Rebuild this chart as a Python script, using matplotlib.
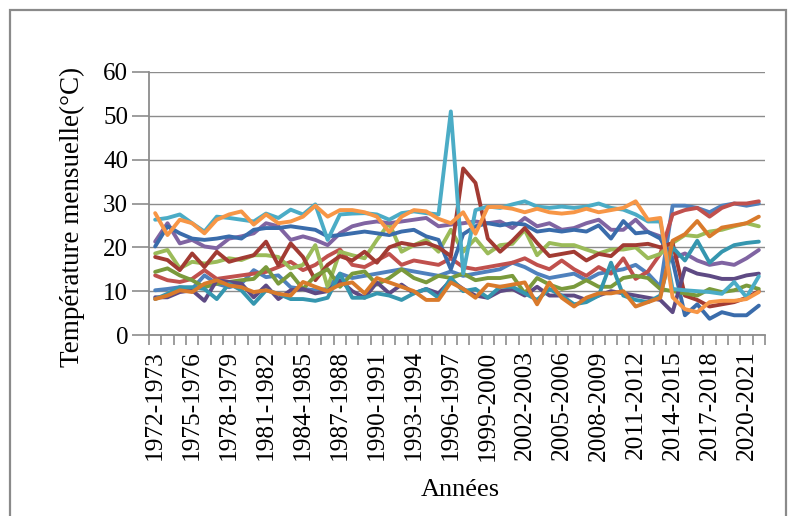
import matplotlib
matplotlib.use("Agg")
import matplotlib.pyplot as plt
from matplotlib.patches import Rectangle
import numpy as np

years = [f"{y}-{y+1}" for y in range(1972, 2022)]

bleu = [10.2, 10.5, 10.9, 10.5, 13.6, 11.7, 10.9, 11.7, 14.8, 13.2, 13.6, 10.9, 10.5,
        10.2, 10.5, 14, 13, 13.5, 14, 14.5, 15, 14.5, 14, 13.5, 14.5,
        13.5, 14, 14.5, 15, 16.5, 15.5, 14, 13, 13.5, 14, 12.5, 14,
        14.5, 15, 16, 14, 11, 29.5, 29.5, 29, 28, 29.5, 30, 29.5, 30]
rouge = [13.6, 12.5, 12.1, 12.8, 14.8, 12.8, 13.2, 13.6, 14, 14.4, 15.5, 16.7, 14.8,
         16, 18, 19.5, 16, 15.5, 17, 18.5, 16, 17, 16.5, 16, 17.5,
         15.5, 15, 15.5, 16, 16.5, 17.5, 16, 15, 17, 15, 13.5, 15.5,
         14, 17.5, 12.8, 14.5, 18.5, 27.5, 28.5, 29, 27, 29, 30, 30, 30.5]
vert = [18.6, 19.4, 15.2, 16.7, 16.3, 16.7, 17.5, 17.1, 18.2, 18.2, 17.8, 15.2, 16,
        20.5, 10.9, 19, 18.2, 17.5, 21.7, 25.5, 19, 20.5, 21.7, 19, 24,
        19, 22, 18.6, 20.5, 20.8, 24, 18.2, 21, 20.5, 20.5, 19.5, 18.6,
        19.5, 19.5, 20, 17.5, 18.5, 21, 22.8, 22.5, 23.6, 24, 24.8, 25.5, 24.8]
violet = [21.3, 25.5, 20.9, 21.7, 20.2, 19.8, 22, 22.5, 23.2, 25.5, 24.8, 21.7, 22.5,
          21.7, 20.5, 23.2, 24.8, 25.5, 25.9, 25.5, 25.9, 26.3, 26.7, 24.8, 25.2,
          25.5, 25.9, 25.5, 25.9, 24.4, 26.7, 24.8, 25.5, 24, 24.4, 25.5, 26.3,
          24, 24, 26.3, 23.5, 22.5, 17.5, 18.6, 17, 16, 16.5, 16, 17.5, 19.4]
cyan = [26.3, 26.7, 27.5, 25.5, 23.6, 27, 26.7, 26.3, 25.9, 27.7, 26.7, 28.6, 27.5,
        29.8, 21.7, 27.5, 27.7, 27.8, 27.5, 26.3, 27.8, 28.2, 27.8, 27.5, 51,
        14, 28.5, 29.3, 29, 29.8, 30.5, 29.3, 29, 29.3, 29, 29.3, 30,
        29, 28.6, 27.5, 25.9, 25.9, 10.5, 10.2, 10, 9.8, 9.4, 12.1, 8.6, 13.4]
orange = [27.8, 22.8, 26.3, 25.5, 23.2, 26.3, 27.5, 28.2, 25.2, 27.5, 25.5, 25.9, 27,
          29.5, 27, 28.5, 28.5, 28, 27, 23.5, 27, 28.5, 28.2, 26.5, 25.5,
          28, 23.1, 29.2, 29.2, 28.8, 28, 28.8, 28, 27.7, 28, 28.8, 28,
          28.5, 29, 30.5, 26.3, 26.7, 8.6, 5.9, 5.2, 7.5, 7.8, 7.8, 8.2, 9.8]
bleu_fonce = [20.2, 24.8, 23.2, 22, 21.7, 22, 22.5, 22, 24, 24.4, 24.4, 24.8, 24.4,
              24, 22.5, 22.8, 23.2, 23.6, 23.2, 22.8, 23.6, 24, 22.5, 21.7, 15,
              23, 24.8, 25.5, 25, 25.5, 25.2, 23.6, 24, 23.6, 24, 23.6, 25,
              22, 26, 23.2, 23.5, 22, 17, 4.5, 7, 3.7, 5.2, 4.5, 4.5, 6.7]
rouge_fonce = [17.8, 17.1, 14.8, 18.6, 15.5, 19, 16.7, 17.5, 18.2, 21.3, 15.9, 20.9, 17.8,
               12.5, 16, 18, 17, 19, 16.5, 20, 21, 20.5, 21, 20, 18,
               38, 34.7, 22, 19, 21.5, 24.4, 21, 18, 18.5, 19, 17, 18.5,
               18, 20.5, 20.5, 20.8, 20, 21, 9, 8, 6.5, 7, 7.5, 8.5, 10]
olive = [14.4, 15.2, 13.6, 12.5, 10.9, 11.7, 12.1, 12.5, 12.8, 15.5, 11.7, 14, 10.5,
         13.5, 15, 11, 14, 14.5, 11.5, 13, 15, 13, 12, 13.5, 13,
         14, 12.5, 13, 13, 13.5, 9.5, 13, 11.5, 10.5, 11, 12.5, 11,
         11, 13, 13.5, 13, 10.5, 10, 9.5, 9, 10.5, 9.8, 10.2, 11.3, 10.5]
violet_fonce = [8.6, 8.6, 9.8, 10.2, 7.8, 12.5, 12.1, 11.7, 8.6, 11.3, 8.2, 10.2, 10.5,
                9.5, 10, 12.5, 10, 8.5, 12, 9.5, 11.5, 9.5, 10.5, 9.5, 12.5,
                10.5, 9, 8.5, 10, 10.5, 9, 11, 9, 9, 9, 8, 9,
                10, 9.5, 9, 8.5, 8, 5.2, 15.2, 14, 13.5, 12.8, 12.8, 13.6, 14]
bleu_canard = [8.2, 9.4, 10.9, 10.9, 10.5, 8.2, 11.7, 10.2, 7.1, 10.2, 9.4, 8.2, 8.2,
               7.8, 8.5, 14, 8.5, 8.5, 9.5, 9, 8, 9.5, 10.5, 8.5, 13,
               10, 10.5, 8.5, 11, 11, 9.5, 8, 10.5, 9, 7, 7.5, 9,
               16.5, 9, 8, 7.5, 9, 20, 17, 21.5, 16.5, 19, 20.5, 21, 21.3]
orange_fonce = [8.2, 9, 10.2, 9.8, 11.7, 12.5, 11.3, 10.9, 9.8, 10.2, 9.4, 9, 12.1,
                11, 10, 11.5, 12, 9.5, 13, 12, 11, 10, 8, 8, 12,
                10.5, 8.5, 11.5, 11, 11.5, 12, 7, 12, 8.5, 6.5, 8.5, 9.5,
                9.5, 10, 6.5, 7.5, 8.5, 21.5, 23, 26, 22.5, 24.5, 25, 25.5, 27]

series = [
    (bleu, "#4F81BD"), (rouge, "#C0504D"), (vert, "#9BBB59"), (violet, "#8064A2"),
    (bleu_fonce, "#3A6CAB"), (rouge_fonce, "#A23B33"), (olive, "#7A9A3C"),
    (violet_fonce, "#5E4A84"), (bleu_canard, "#3596AF"), (orange_fonce, "#D97A2B"),
    (cyan, "#4BACC6"), (orange, "#F79646"),
]

serif = ["Liberation Serif", "DejaVu Serif"]
W, H = 798, 516
fig = plt.figure(figsize=(W / 100, H / 100), dpi=100)
fig.patches.append(Rectangle((10 / W, -0.05), 776 / W, 1.05 - 10 / H,
                             transform=fig.transFigure, fill=False,
                             edgecolor="#8a8a8a", linewidth=1.6))
ax = fig.add_axes([149 / W, (H - 335) / H, 616 / W, 263 / H])

x = np.arange(len(years))
for vals, col in series:
    ax.plot(x, vals, color=col, linewidth=2.8, solid_joinstyle="round",
            solid_capstyle="round")

ax.set_xlim(-0.5, len(years) - 0.5)
ax.set_ylim(0, 60)
ax.set_yticks(range(0, 61, 10))
ax.yaxis.grid(True, color="#8c8c8c", linewidth=1.0)
ax.set_axisbelow(True)
for s in ["top", "right"]:
    ax.spines[s].set_visible(False)
for s in ["left", "bottom"]:
    ax.spines[s].set_color("#8c8c8c")
    ax.spines[s].set_linewidth(1.3)

ax.set_xticks(x[::3])
ax.set_xticklabels(years[::3], rotation=90, fontfamily=serif, fontsize=18.3)
ax.set_xticks(np.arange(-0.5, len(years), 1), minor=True)
ax.tick_params(axis="x", which="major", length=0, pad=11)
ax.tick_params(axis="x", which="minor", length=7, color="#8c8c8c", width=1.2)
ax.tick_params(axis="y", length=12, color="#8c8c8c", width=1.2, pad=3)
for lab in ax.get_yticklabels():
    lab.set_fontfamily(serif)
    lab.set_fontsize(18)

fig.text(72 / W, 1 - 217 / H, "Température mensuelle(°C)", rotation=90,
         ha="center", va="center", fontfamily=serif, fontsize=19.5)
fig.text(460 / W, 1 - 490 / H, "Années", ha="center", va="center",
         fontfamily=serif, fontsize=19)

fig.savefig("out.png", dpi=100)
